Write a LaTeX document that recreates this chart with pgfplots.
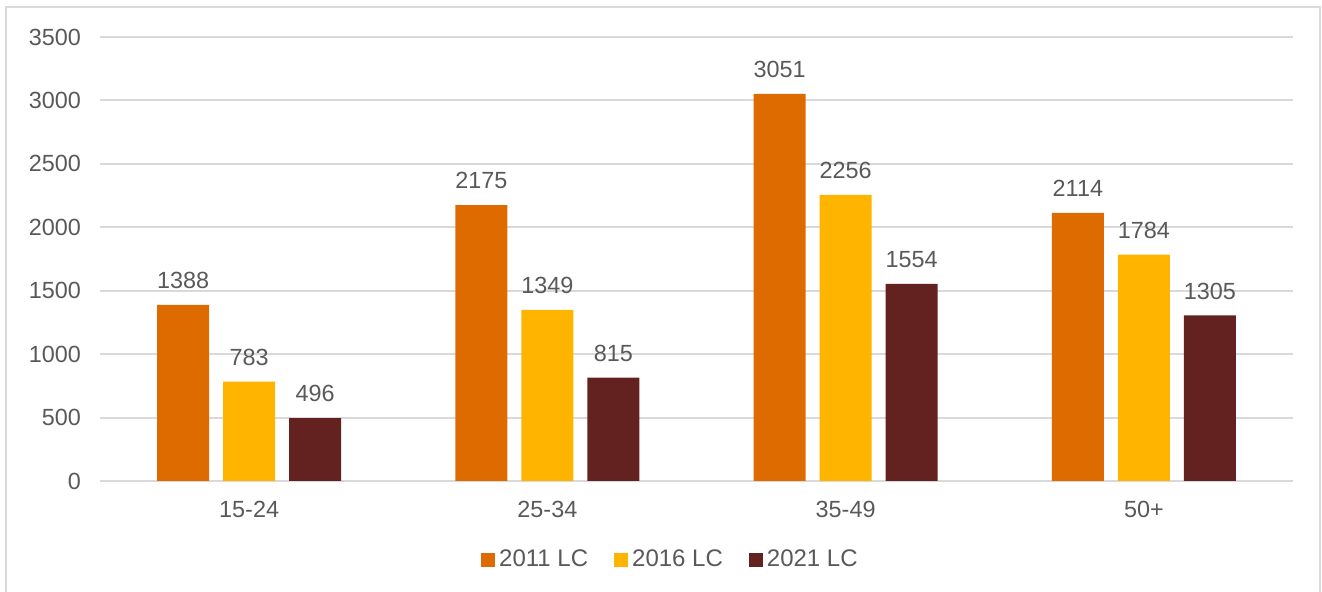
\documentclass[border=0pt]{standalone}
\usepackage{pgfplots}
\pgfplotsset{compat=1.18}
\usepackage{fontspec}
\setmainfont{Liberation Sans}

\definecolor{c2011}{HTML}{DD6B00}
\definecolor{c2016}{HTML}{FFB400}
\definecolor{c2021}{HTML}{632120}
\definecolor{txt}{HTML}{595959}
\definecolor{gridc}{HTML}{D9D9D9}

\begin{document}
\begin{tikzpicture}
% page frame: 1322 x 592 px at 0.5pt per px, axis origin at px (100,481)
\useasboundingbox (-50pt,-55.5pt) rectangle (611pt,240.5pt);
\draw[gridc, line width=1pt] (-47pt,-60pt) -- (-47pt,237pt) -- (610pt,237pt) -- (610pt,-60pt);
\begin{axis}[
    scale only axis,
    width=596.5pt, height=222pt,
    ybar=7pt,
    bar width=26pt,
    xmin=-0.5, xmax=3.5,
    ymin=0, ymax=3500,
    ytick={0,500,...,3500},
    xtick=data,
    xticklabels={15-24, 25-34, 35-49, 50+},
    xtick style={draw=none},
    ytick style={draw=none},
    axis line style={draw=none},
    xmajorgrids=false,
    ymajorgrids=true,
    y grid style={gridc, line width=1pt},
    font=\fontsize{11.7}{14}\selectfont,
    tick label style={text=txt},
    /pgf/number format/assume math mode=true,
    /pgf/number format/1000 sep={},
    yticklabel style={xshift=-6pt},
    xticklabel style={yshift=-2.5pt},
    nodes near coords,
    every node near coord/.append style={text=txt, yshift=4.5pt, font=\fontsize{11.7}{14}\selectfont},
    legend style={at={(0.479,-0.178)}, anchor=center, draw=none, legend columns=-1,
        text=txt, font=\fontsize{12}{14}\selectfont,
        /tikz/every even column/.append style={column sep=11pt}},
    legend image code/.code={\fill[#1] (0pt,-3.5pt) rectangle (7pt,3.5pt);},
    legend cell align=left,
]
\addplot[fill=c2011, draw=none] coordinates {(0,1388) (1,2175) (2,3051) (3,2114)};
\addplot[fill=c2016, draw=none] coordinates {(0,783) (1,1349) (2,2256) (3,1784)};
\addplot[fill=c2021, draw=none] coordinates {(0,496) (1,815) (2,1554) (3,1305)};
\legend{2011 LC, 2016 LC, 2021 LC}
\end{axis}
\end{tikzpicture}
\end{document}
